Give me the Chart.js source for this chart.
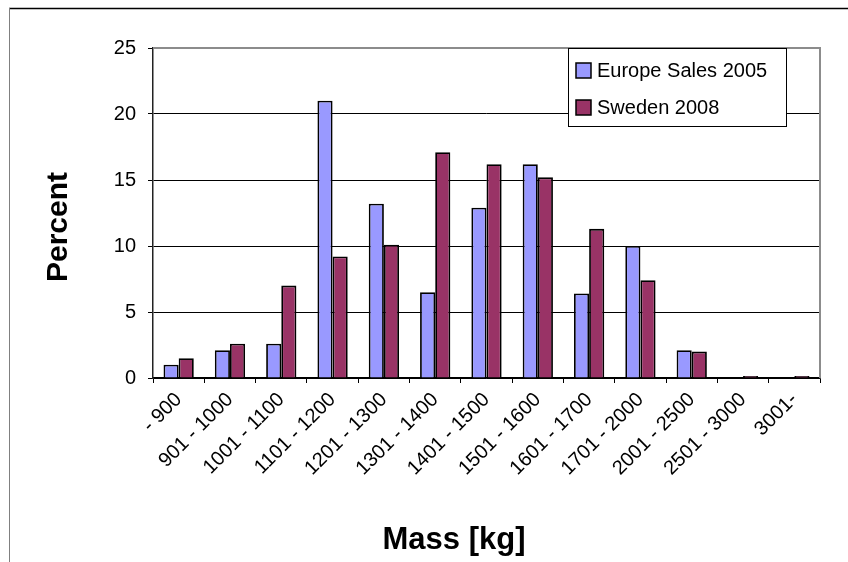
<!DOCTYPE html>
<html><head><meta charset="utf-8">
<script src="https://cdn.jsdelivr.net/npm/chart.js@4"></script>
<style>html,body{margin:0;padding:0;background:#fff;overflow:hidden}</style>
</head><body>
<canvas id="c" width="848" height="562"></canvas>
<script>
const categories = ['- 900','901 - 1000','1001 - 1100','1101 - 1200','1201 - 1300','1301 - 1400','1401 - 1500','1501 - 1600','1601 - 1700','1701 - 2000','2001 - 2500','2501 - 3000','3001-'];
const europeSales2005 = [1.0, 2.1, 2.6, 21.0, 13.2, 6.5, 12.9, 16.2, 6.4, 10.0, 2.1, 0, 0];
const sweden2008 = [1.5, 2.6, 7.0, 9.2, 10.1, 17.1, 16.2, 15.2, 11.3, 7.4, 2.0, 0.15, 0.15];
const yTicks = [0, 5, 10, 15, 20, 25];
const seriesNames = ['Europe Sales 2005', 'Sweden 2008'];
const seriesColors = ['#9999FF', '#993366'];
const yTitle = 'Percent';
const xTitle = 'Mass [kg]';

const FONT = "'Liberation Sans', Arial, Helvetica, sans-serif";

const decor = {
  id: 'decor',
  beforeDraw(chart) {
    const ctx = chart.ctx;
    ctx.save();
    ctx.fillStyle = '#fff';
    ctx.fillRect(0, 0, chart.width, chart.height);
    ctx.strokeStyle = '#000';
    ctx.lineWidth = 1.5;
    ctx.beginPath();
    ctx.moveTo(9, 8.5); ctx.lineTo(chart.width, 8.5);
    ctx.stroke();
    ctx.strokeStyle = '#808080';
    ctx.lineWidth = 1;
    ctx.beginPath();
    ctx.moveTo(9.5, 8); ctx.lineTo(9.5, chart.height);
    ctx.stroke();
    ctx.restore();
  },
  afterDraw(chart) {
    const ctx = chart.ctx;
    const a = chart.chartArea;
    ctx.save();
    ctx.strokeStyle = '#8c8c8c';
    ctx.lineWidth = 2;
    ctx.beginPath();
    ctx.moveTo(a.left, a.top); ctx.lineTo(a.right, a.top); ctx.lineTo(a.right, a.bottom);
    ctx.stroke();
    ctx.fillStyle = '#000';
    ctx.font = 'bold 30px ' + FONT;
    ctx.textAlign = 'center';
    ctx.textBaseline = 'alphabetic';
    ctx.save();
    ctx.translate(67, 227);
    ctx.rotate(-Math.PI / 2);
    ctx.fillText(yTitle, 0, 0);
    ctx.restore();
    ctx.font = 'bold 31px ' + FONT;
    ctx.fillText(xTitle, 454, 549);
    const lx = 568.5, ly = 48.5, lw = 218, lh = 78;
    ctx.fillStyle = '#fff';
    ctx.fillRect(lx, ly, lw, lh);
    ctx.strokeStyle = '#000';
    ctx.lineWidth = 1;
    ctx.strokeRect(lx, ly, lw, lh);
    ctx.font = '20px ' + FONT;
    ctx.textAlign = 'left';
    ctx.textBaseline = 'middle';
    chart.data.datasets.forEach((ds, i) => {
      const y = 70 + i * 37;
      ctx.fillStyle = ds.backgroundColor;
      ctx.fillRect(576, y - 7, 15, 15);
      ctx.strokeStyle = '#000';
      ctx.lineWidth = 1.5;
      ctx.strokeRect(576, y - 7, 15, 15);
      ctx.fillStyle = '#000';
      ctx.fillText(ds.label, 597, y + 1);
    });
    ctx.restore();
  }
};

new Chart(document.getElementById('c'), {
  type: 'bar',
  data: {
    labels: categories,
    datasets: [
      { label: seriesNames[0], data: europeSales2005, backgroundColor: seriesColors[0], borderColor: '#000', borderWidth: 1.8, borderSkipped: 'start' },
      { label: seriesNames[1], data: sweden2008, backgroundColor: seriesColors[1], borderColor: '#000', borderWidth: 1.8, borderSkipped: 'start' }
    ]
  },
  options: {
    responsive: false,
    animation: false,
    devicePixelRatio: 1,
    layout: { padding: { left: 0, top: 48, right: 28, bottom: 0 } },
    datasets: { bar: { categoryPercentage: 0.59, barPercentage: 1.0 } },
    plugins: { legend: { display: false }, tooltip: { enabled: false } },
    scales: {
      x: {
        grid: { offset: true, drawOnChartArea: false, drawTicks: true, tickLength: 5, color: '#000', lineWidth: 1 },
        border: { color: '#000', width: 1.5 },
        ticks: { minRotation: 45, maxRotation: 45, autoSkip: false, color: '#000', padding: 5, font: { family: FONT, size: 20 } },
        afterFit(scale) { scale.height = 184; }
      },
      y: {
        min: 0, max: 25,
        afterBuildTicks(scale) { scale.ticks = yTicks.map(v => ({ value: v })); },
        grid: {
          color: (c) => (c.tick && c.tick.value === 25) ? 'rgba(0,0,0,0)' : '#000',
          tickColor: '#000', lineWidth: 1, tickLength: 5, drawTicks: true
        },
        border: { color: '#222', width: 1.5 },
        ticks: { color: '#000', padding: 12, font: { family: FONT, size: 20 } },
        afterFit(scale) { scale.width = 153; }
      }
    }
  },
  plugins: [decor]
});
</script>
</body></html>
